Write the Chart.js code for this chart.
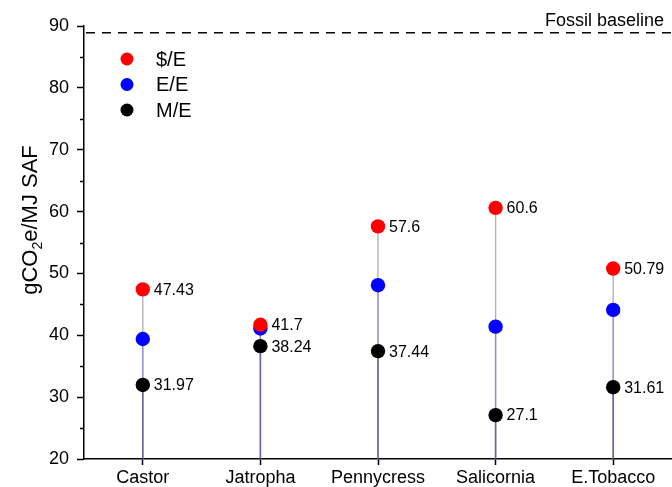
<!DOCTYPE html>
<html>
<head>
<meta charset="utf-8">
<script src="https://cdn.jsdelivr.net/npm/chart.js@4.4.1/dist/chart.umd.min.js"></script>
<style>
  html, body { margin: 0; padding: 0; background: #fff; overflow: hidden; }
  #wrap { width: 672px; height: 487px; }
</style>
</head>
<body>
<div id="wrap"><canvas id="c" width="672" height="487"></canvas></div>
<script>
// Feedstocks and lifecycle emissions (gCO2e/MJ SAF) per allocation method
const categories = ['Castor', 'Jatropha', 'Pennycress', 'Salicornia', 'E.Tobacco'];
const dollarPerEnergy = [47.43, 41.7, 57.6, 60.6, 50.79];   // $/E
const energyPerEnergy = [39.4, 41.1, 48.1, 41.4, 44.1];     // E/E
const massPerEnergy   = [31.97, 38.24, 37.44, 27.1, 31.61]; // M/E
const fossilBaseline = 88.9;
const yTicks = [20, 30, 40, 50, 60, 70, 80, 90];
const yMinorTicks = [25, 35, 45, 55, 65, 75, 85];

const FONT = "'Liberation Sans', Arial, Helvetica, sans-serif";

// Stems from each marker down to the x axis
const dropLines = {
  id: 'dropLines',
  beforeDatasetsDraw(chart) {
    const ctx = chart.ctx;
    const bottom = chart.chartArea.bottom;
    chart.data.datasets.forEach((ds, i) => {
      const meta = chart.getDatasetMeta(i);
      ctx.save();
      ctx.strokeStyle = ds.stemColor;
      ctx.lineWidth = ds.stemWidth;
      meta.data.forEach(pt => {
        ctx.beginPath();
        ctx.moveTo(pt.x, pt.y);
        ctx.lineTo(pt.x, bottom);
        ctx.stroke();
      });
      ctx.restore();
    });
  }
};

// Dashed fossil reference line with its caption
const baseline = {
  id: 'baseline',
  afterDatasetsDraw(chart) {
    const ctx = chart.ctx;
    const y = chart.scales.y.getPixelForValue(fossilBaseline);
    const { left, right } = chart.chartArea;
    ctx.save();
    ctx.strokeStyle = '#000';
    ctx.lineWidth = 1.6;
    ctx.setLineDash([9, 7]);
    ctx.beginPath();
    ctx.moveTo(left + 2, y);
    ctx.lineTo(right, y);
    ctx.stroke();
    ctx.setLineDash([]);
    ctx.fillStyle = '#000';
    ctx.font = '18px ' + FONT;
    ctx.textAlign = 'right';
    ctx.textBaseline = 'alphabetic';
    ctx.fillText('Fossil baseline', 664, y - 7);
    ctx.restore();
  }
};

// Value labels beside the $/E and M/E markers
const valueLabels = {
  id: 'valueLabels',
  afterDatasetsDraw(chart) {
    const ctx = chart.ctx;
    ctx.save();
    ctx.fillStyle = '#000';
    ctx.font = '16px ' + FONT;
    ctx.textAlign = 'left';
    ctx.textBaseline = 'middle';
    chart.data.datasets.forEach((ds, i) => {
      if (!ds.showValues) return;
      const meta = chart.getDatasetMeta(i);
      meta.data.forEach((pt, j) => {
        ctx.fillText(String(ds.data[j]), pt.x + 11, pt.y + 1);
      });
    });
    ctx.restore();
  }
};

// Minor ticks, y-axis title with subscript, and the legend
const decorations = {
  id: 'decorations',
  afterDraw(chart) {
    const ctx = chart.ctx;
    const ys = chart.scales.y;
    const axisX = chart.chartArea.left;
    ctx.save();
    ctx.strokeStyle = '#000';
    ctx.lineWidth = 1.5;
    yMinorTicks.forEach(v => {
      const y = Math.round(ys.getPixelForValue(v)) + 0.5;
      ctx.beginPath();
      ctx.moveTo(axisX - 4, y);
      ctx.lineTo(axisX, y);
      ctx.stroke();
    });

    // axis title: gCO2e/MJ SAF
    const big = '22px ' + FONT, small = '14px ' + FONT;
    const parts = [['gCO', big, 0], ['2', small, 5], ['e/MJ SAF', big, 0]];
    let total = 0;
    parts.forEach(p => { ctx.font = p[1]; total += ctx.measureText(p[0]).width; });
    ctx.translate(37, 220);
    ctx.rotate(-Math.PI / 2);
    ctx.fillStyle = '#000';
    ctx.textBaseline = 'alphabetic';
    ctx.textAlign = 'left';
    let x = -total / 2;
    parts.forEach(p => {
      ctx.font = p[1];
      ctx.fillText(p[0], x, p[2]);
      x += ctx.measureText(p[0]).width;
    });
    ctx.restore();

    // legend
    ctx.save();
    ctx.font = '20px ' + FONT;
    ctx.textAlign = 'left';
    ctx.textBaseline = 'middle';
    chart.data.datasets.forEach((ds, i) => {
      const cy = 59 + i * 25.5;
      ctx.fillStyle = ds.backgroundColor;
      ctx.beginPath();
      ctx.arc(127, cy, 6.5, 0, Math.PI * 2);
      ctx.fill();
      ctx.fillStyle = '#000';
      ctx.fillText(ds.label, 156, cy + 1);
    });
    ctx.restore();
  }
};

new Chart(document.getElementById('c'), {
  type: 'line',
  data: {
    labels: categories,
    datasets: [
      { label: '$/E', data: dollarPerEnergy, backgroundColor: '#ff0000', borderColor: '#ff0000',
        stemColor: 'rgba(160,160,160,0.8)', stemWidth: 1.4, showValues: true },
      { label: 'E/E', data: energyPerEnergy, backgroundColor: '#0000ff', borderColor: '#0000ff',
        stemColor: 'rgba(100,100,255,0.45)', stemWidth: 1.5, showValues: false },
      { label: 'M/E', data: massPerEnergy, backgroundColor: '#000000', borderColor: '#000000',
        stemColor: 'rgba(50,50,80,0.45)', stemWidth: 1.6, showValues: true }
    ].map(d => Object.assign(d, {
      showLine: false, pointRadius: 7.2, pointHoverRadius: 7.2, pointBorderWidth: 0
    }))
  },
  options: {
    responsive: false,
    animation: false,
    devicePixelRatio: 1,
    layout: { autoPadding: false, padding: { top: 26, left: 0, right: 0, bottom: 0 } },
    plugins: { legend: { display: false }, tooltip: { enabled: false } },
    scales: {
      x: {
        type: 'category',
        offset: true,
        grid: { display: true, drawOnChartArea: false, drawTicks: true, tickLength: 6, tickColor: '#000', tickWidth: 1.5 },
        border: { display: true, color: '#000', width: 1.5 },
        ticks: { color: '#000', font: { family: FONT, size: 18 }, padding: 2, maxRotation: 0, autoSkip: false },
        afterFit(scale) {
          scale.height = 28;
          scale.paddingLeft = 0;
          scale.paddingRight = 0;
        }
      },
      y: {
        min: 20, max: 90,
        afterBuildTicks(scale) { scale.ticks = yTicks.map(v => ({ value: v })); },
        grid: { display: true, drawOnChartArea: false, drawTicks: true, tickLength: 7, tickColor: '#000', tickWidth: 1.5 },
        border: { display: true, color: '#000', width: 1.5 },
        ticks: { color: '#000', font: { family: FONT, size: 18 }, padding: 8 },
        afterFit(scale) {
          scale.width = 84;
          scale.paddingTop = 0;
          scale.paddingBottom = 0;
        }
      }
    }
  },
  plugins: [dropLines, baseline, valueLabels, decorations]
});
</script>
</body>
</html>
